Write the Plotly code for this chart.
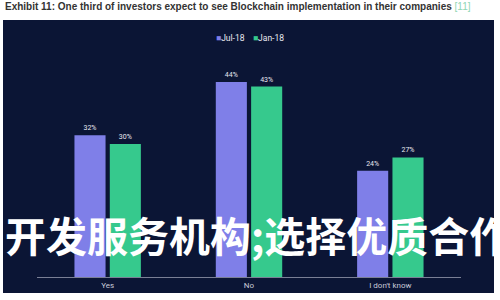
import plotly.graph_objects as go

categories = ["Yes", "No", "I don't know"]
jul18 = [32, 44, 24]
jan18 = [30, 43, 27]
series_names = ["Jul-18", "Jan-18"]

W, H = 500, 300
NAVY = "#0b1535"
PURPLE = "#7f7fe8"
GREEN = "#36c98d"

fig = go.Figure()
for name, vals, col in [(series_names[0], jul18, PURPLE), (series_names[1], jan18, GREEN)]:
    fig.add_trace(go.Bar(
        x=categories, y=vals, name=name, marker=dict(color=col, line=dict(width=0)),
        text=[f"{v}%" for v in vals], textposition="outside",
        textfont=dict(color="#e8e8f0", size=7, family="Roboto"),
        cliponaxis=False, showlegend=False,
    ))

legend_text = (f"<span style='color:{PURPLE}'>■</span>{series_names[0]}"
               f"&nbsp;&nbsp;&nbsp;&nbsp;<span style='color:{GREEN}'>■</span>{series_names[1]}")

fig.update_layout(
    width=W, height=H,
    margin=dict(l=0, r=0, t=0, b=0),
    paper_bgcolor="white",
    plot_bgcolor=NAVY,
    barmode="group",
    bargap=0.5,
    bargroupgap=0.12,
    xaxis=dict(domain=[37 / W, 461 / W], showgrid=False, zeroline=False,
               showline=True, linecolor="#7a7f95", linewidth=1,
               tickfont=dict(color="#c8cad8", size=8, family="Roboto"), ticks=""),
    yaxis=dict(domain=[(H - 277) / H, (H - 60) / H], range=[0, (277 - 60) / 4.43],
               visible=False),
    shapes=[dict(type="rect", xref="paper", yref="paper", layer="below",
                 x0=3 / W, x1=494 / W, y0=(H - 293) / H, y1=(H - 20) / H,
                 fillcolor=NAVY, line=dict(width=0))],
    annotations=[
        dict(xref="paper", yref="paper", x=3 / W, y=(H - 7) / H, xanchor="left", yanchor="middle",
             showarrow=False,
             text="<b>Exhibit 11: One third of investors expect to see Blockchain implementation in their companies</b> <span style='color:#8fd6b4'>[11]</span>",
             font=dict(color="#333333", size=10, family="Liberation Sans")),
        dict(xref="paper", yref="paper", x=0.5, y=(H - 38) / H, xanchor="center", yanchor="middle",
             showarrow=False, text=legend_text,
             font=dict(color="#e8e8f0", size=8.5, family="Roboto")),
        dict(xref="paper", yref="paper", x=3 / W, y=(H - 234) / H, xanchor="left", yanchor="middle",
             showarrow=False, text="<b>开发服务机构;选择优质合作</b>",
             font=dict(color="white", size=41, family="Noto Sans CJK SC")),
    ],
)

fig.write_html("out.html")
